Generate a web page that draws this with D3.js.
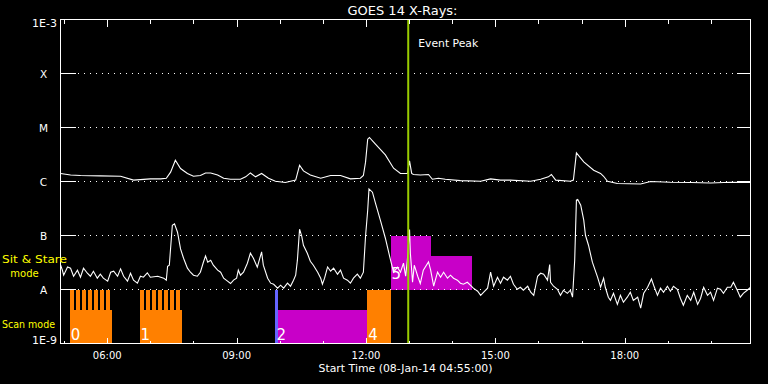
<!DOCTYPE html>
<html>
<head>
<meta charset="utf-8">
<script src="https://cdn.jsdelivr.net/npm/d3@7"></script>
<style>
  body { margin: 0; background: #000; }
  svg { display: block; }
  text { font-family: "DejaVu Sans", sans-serif; fill: #fff; }
</style>
</head>
<body>
<svg id="chart" width="768" height="384"></svg>
<script>
// time range of the plot, UT hours on 08-Jan-2014
const dayStart = Date.UTC(2014, 0, 8);
const plotStart = 4 + 55 / 60;
const plotEnd = 20 + 55 / 60;
const eventPeak = 12.98;

const classFlux = [1e-9, 1e-8, 1e-7, 1e-6, 1e-5, 1e-4, 1e-3];
const classLabels = ["1E-9", "A", "B", "C", "M", "X", "1E-3"];

// GOES 14, 1-8 A channel  [hour UT, W/m^2]
const goesLong = [
  [4.92,1.41e-6],[5.15,1.32e-6],[5.38,1.29e-6],[5.84,1.27e-6],[6.31,1.25e-6],[6.61,1.06e-6],
  [7.00,1.12e-6],[7.24,1.12e-6],[7.37,1.15e-6],[7.47,1.49e-6],[7.58,2.48e-6],[7.70,1.74e-6],
  [7.86,1.41e-6],[8.00,1.25e-6],[8.16,1.29e-6],[8.28,1.44e-6],[8.40,1.44e-6],[8.56,1.32e-6],
  [8.70,1.15e-6],[8.86,1.10e-6],[9.09,1.10e-6],[9.21,1.22e-6],[9.32,1.44e-6],[9.44,1.22e-6],
  [9.58,1.41e-6],[9.74,1.15e-6],[9.90,1.01e-6],[10.13,9.6e-7],[10.37,1.06e-6],[10.46,2.0e-6],
  [10.55,1.57e-6],[10.71,1.32e-6],[10.95,1.15e-6],[11.18,1.29e-6],[11.41,1.29e-6],[11.64,1.12e-6],
  [11.87,1.15e-6],[11.94,1.29e-6],[11.99,2.28e-6],[12.04,6.07e-6],[12.08,6.53e-6],[12.22,4.91e-6],
  [12.45,3.11e-6],[12.64,1.76e-6],[12.80,1.41e-6],[12.96,1.41e-6],[13.01,2.41e-6],[13.06,1.41e-6],
  [13.10,1.35e-6],[13.26,1.32e-6],[13.45,1.35e-6],[13.54,1.10e-6],[13.68,1.15e-6],[13.84,1.10e-6],
  [14.19,1.04e-6],[14.66,1.01e-6],[14.89,1.12e-6],[15.12,1.06e-6],[15.35,1.06e-6],[15.82,1.01e-6],
  [16.05,1.10e-6],[16.23,1.22e-6],[16.30,1.35e-6],[16.40,1.06e-6],[16.74,1.01e-6],[16.81,1.06e-6],
  [16.88,3.39e-6],[17.05,2.31e-6],[17.28,1.62e-6],[17.44,1.41e-6],[17.51,1.25e-6],[17.60,1.01e-6],
  [17.83,9.2e-7],[18.37,9.0e-7],[18.60,1.0e-6],[19.06,9.7e-7],[19.53,9.6e-7],[19.99,9.4e-7],
  [20.46,9.7e-7],[20.92,9.6e-7]
];

// GOES 14, 0.5-4 A channel  [hour UT, W/m^2]
const goesShort = [
  [4.92,2.82e-8],[4.96,2.28e-8],[4.99,1.84e-8],[5.08,2.62e-8],[5.15,2.48e-8],[5.22,1.76e-8],
  [5.31,2.28e-8],[5.38,1.69e-8],[5.45,2.48e-8],[5.54,2.00e-8],[5.61,1.76e-8],[5.68,2.18e-8],
  [5.77,1.62e-8],[5.84,1.92e-8],[5.91,1.62e-8],[6.01,1.43e-8],[6.08,2.09e-8],[6.15,2.18e-8],
  [6.24,1.76e-8],[6.31,2.41e-8],[6.38,1.76e-8],[6.47,1.43e-8],[6.54,2.00e-8],[6.61,1.49e-8],
  [6.70,1.31e-8],[6.77,1.76e-8],[6.84,1.69e-8],[6.93,2.04e-8],[7.00,1.69e-8],[7.17,1.76e-8],
  [7.31,1.62e-8],[7.37,1.49e-8],[7.40,2.70e-8],[7.44,2.82e-8],[7.51,1.55e-7],[7.56,1.64e-7],
  [7.63,1.15e-7],[7.70,5.65e-8],[7.77,3.80e-8],[7.86,2.48e-8],[7.93,2.09e-8],[8.00,1.84e-8],
  [8.09,1.76e-8],[8.16,2.09e-8],[8.23,3.20e-8],[8.28,4.19e-8],[8.33,3.20e-8],[8.40,3.49e-8],
  [8.46,2.82e-8],[8.56,2.28e-8],[8.63,2.09e-8],[8.70,1.62e-8],[8.79,1.43e-8],[8.86,1.29e-8],
  [8.93,1.49e-8],[9.00,1.62e-8],[9.04,2.28e-8],[9.09,1.84e-8],[9.16,2.09e-8],[9.25,3.07e-8],
  [9.32,4.70e-8],[9.39,3.80e-8],[9.48,2.59e-8],[9.58,4.97e-8],[9.62,2.82e-8],[9.72,1.62e-8],
  [9.79,1.31e-8],[9.86,1.25e-8],[9.95,1.06e-8],[10.02,1.20e-8],[10.09,1.06e-8],[10.18,1.31e-8],
  [10.25,1.15e-8],[10.32,1.49e-8],[10.37,1.84e-8],[10.41,3.49e-8],[10.46,1.31e-7],[10.51,9.7e-8],
  [10.55,6.6e-8],[10.64,4.70e-8],[10.71,3.34e-8],[10.78,2.82e-8],[10.88,2.09e-8],[10.95,1.62e-8],
  [10.99,1.25e-8],[11.04,1.62e-8],[11.11,2.62e-8],[11.18,2.18e-8],[11.25,2.48e-8],[11.34,1.92e-8],
  [11.41,2.28e-8],[11.48,1.62e-8],[11.57,1.49e-8],[11.64,1.31e-8],[11.71,1.62e-8],[11.80,1.92e-8],
  [11.87,1.62e-8],[11.94,2.09e-8],[11.99,9.7e-8],[12.04,2.94e-7],[12.07,7.29e-7],[12.15,6.34e-7],
  [12.22,3.96e-7],[12.34,1.84e-7],[12.45,8.9e-8],[12.57,3.49e-8],[12.64,2.09e-8],[12.73,2.59e-8],
  [12.80,2.09e-8],[12.87,3.07e-8],[12.92,1.76e-8],[12.96,3.5e-8],[13.01,1.29e-7],[13.03,4.64e-8],
  [13.06,2.28e-8],[13.08,1.36e-8],[13.12,2.82e-8],[13.20,1.76e-8],[13.26,1.29e-8],[13.33,2.28e-8],
  [13.45,3.24e-8],[13.50,2.28e-8],[13.57,1.15e-8],[13.66,2.09e-8],[13.73,1.69e-8],[13.80,2.09e-8],
  [13.89,1.62e-8],[13.96,1.84e-8],[14.03,1.62e-8],[14.12,1.49e-8],[14.19,1.31e-8],[14.26,1.25e-8],
  [14.35,1.36e-8],[14.42,1.20e-8],[14.49,1.06e-8],[14.59,9.3e-9],[14.66,7.8e-9],[14.73,8.9e-9],
  [14.82,1.06e-8],[14.89,2.09e-8],[14.96,1.15e-8],[15.05,1.69e-8],[15.12,1.31e-8],[15.19,1.69e-8],
  [15.28,1.49e-8],[15.35,1.76e-8],[15.42,1.25e-8],[15.51,1.01e-8],[15.58,1.10e-8],[15.65,9.7e-9],
  [15.75,1.15e-8],[15.82,8.9e-9],[15.89,7.8e-9],[15.98,1.76e-8],[16.05,2.00e-8],[16.12,1.92e-8],
  [16.21,1.49e-8],[16.26,2.90e-8],[16.28,1.36e-8],[16.35,1.15e-8],[16.44,1.01e-8],[16.51,7.8e-9],
  [16.58,9.7e-9],[16.67,8.5e-9],[16.74,9.7e-9],[16.79,7.2e-9],[16.84,3.49e-8],[16.88,4.51e-7],
  [16.91,4.64e-7],[16.98,3.64e-7],[17.05,1.92e-7],[17.09,1.01e-7],[17.16,6.6e-8],[17.25,3.20e-8],
  [17.37,1.69e-8],[17.44,1.10e-8],[17.51,1.62e-8],[17.55,1.10e-8],[17.62,7.2e-9],[17.67,6.3e-9],
  [17.74,8.5e-9],[17.83,5.3e-9],[17.90,7.8e-9],[17.97,5.8e-9],[18.06,7.2e-9],[18.13,8.9e-9],
  [18.20,6.3e-9],[18.30,7.2e-9],[18.37,4.5e-9],[18.44,8.5e-9],[18.53,1.10e-8],[18.62,1.57e-8],
  [18.67,1.20e-8],[18.76,7.8e-9],[18.83,1.06e-8],[18.90,8.9e-9],[18.99,1.15e-8],[19.06,9.3e-9],
  [19.13,1.15e-8],[19.22,1.01e-8],[19.29,6.9e-9],[19.36,5.1e-9],[19.45,7.8e-9],[19.53,6.3e-9],
  [19.60,8.9e-9],[19.69,5.3e-9],[19.76,6.9e-9],[19.83,1.10e-8],[19.92,7.8e-9],[19.99,8.9e-9],
  [20.06,6.3e-9],[20.15,1.06e-8],[20.22,1.01e-8],[20.29,8.5e-9],[20.38,1.10e-8],[20.46,1.10e-8],
  [20.52,1.36e-8],[20.61,9.7e-9],[20.68,7.2e-9],[20.75,8.5e-9],[20.84,9.7e-9],[20.92,1.10e-8]
];

// IRIS observations: mode band, start/end (hour UT), fill level within band, raster count
const obsLabels = ["0", "1", "2", "", "4", "5", ""];
const obsMode   = ["scan", "scan", "scan", "scan", "scan", "sit", "sit"];
const obsStart  = [5.13, 6.75, 9.90, 9.96, 12.03, 12.57, 13.51];
const obsEnd    = [6.12, 7.74, 9.95, 12.03, 12.57, 13.51, 14.47];
const obsLevel  = [0.62, 0.62, 1.0, 0.62, 1.0, 1.0, 0.62];
const obsRasters = [7, 7, 0, 0, 0, 0, 0];
const obsColor  = ["#ff8000", "#ff8000", "#6464ff", "#c800c8", "#ff8000", "#c800c8", "#c800c8"];

const bandLow = { scan: 1e-9, sit: 1e-8 };

const toDate = h => new Date(dayStart + h * 3600e3);

const svg = d3.select("#chart");
svg.append("rect").attr("width", 768).attr("height", 384).attr("fill", "#000");

const x = d3.scaleUtc()
  .domain([toDate(plotStart), toDate(plotEnd)])
  .range([60.5, 750.5]);
const y = d3.scaleLog()
  .domain([1e-9, 1e-3])
  .range([343.5, 19.5]);

const pLeft = 60.5, pRight = 750.5, pTop = 19.5, pBottom = 343.5;

// observation blocks
const obs = obsStart.map((s, i) => ({
  label: obsLabels[i], mode: obsMode[i], start: s, end: obsEnd[i],
  level: obsLevel[i], rasters: obsRasters[i], color: obsColor[i]
}));

const blocks = svg.append("g");
obs.forEach(o => {
  const low = bandLow[o.mode];
  const x0 = x(toDate(o.start)), x1 = x(toDate(o.end));
  const yTop = y(low * Math.pow(10, o.level));
  blocks.append("rect")
    .attr("x", x0).attr("width", x1 - x0)
    .attr("y", yTop).attr("height", y(low) - yTop)
    .attr("fill", o.color)
    .attr("shape-rendering", "crispEdges");
  const step = (o.end - o.start) / (o.rasters || 1);
  for (let k = 0; k < o.rasters; k++) {
    const t0 = o.start + k * step;
    const tx0 = x(toDate(t0)), tx1 = x(toDate(t0 + step * 0.66));
    blocks.append("rect")
      .attr("x", tx0).attr("width", tx1 - tx0)
      .attr("y", y(low * 10)).attr("height", yTop - y(low * 10))
      .attr("fill", o.color)
      .attr("shape-rendering", "crispEdges");
  }
});

// grid lines (dotted) and side ticks at each decade
const grid = svg.append("g").attr("stroke", "#fff").attr("shape-rendering", "crispEdges");
classFlux.slice(1, -1).forEach(f => {
  grid.append("line")
    .attr("x1", 78).attr("x2", 735).attr("y1", y(f)).attr("y2", y(f))
    .attr("stroke-dasharray", "1,5");
});
classFlux.forEach(f => {
  grid.append("line").attr("x1", pLeft).attr("x2", pLeft + 15).attr("y1", y(f)).attr("y2", y(f));
  grid.append("line").attr("x1", pRight - 14).attr("x2", pRight).attr("y1", y(f)).attr("y2", y(f));
});

// curves
const line = d3.line()
  .x(d => x(toDate(d[0])))
  .y(d => y(d[1]));

svg.append("path").datum(goesLong)
  .attr("d", line).attr("fill", "none").attr("stroke", "#fff").attr("stroke-width", 1.1);
svg.append("path").datum(goesShort)
  .attr("d", line).attr("fill", "none").attr("stroke", "#fff").attr("stroke-width", 1.1);

// event peak marker
svg.append("line")
  .attr("x1", x(toDate(eventPeak))).attr("x2", x(toDate(eventPeak)))
  .attr("y1", pTop).attr("y2", pBottom)
  .attr("stroke", "#99cc00").attr("stroke-width", 2);
svg.append("text")
  .attr("x", x(toDate(eventPeak)) + 10).attr("y", 46.5)
  .attr("font-size", 11).attr("textLength", 60).attr("lengthAdjust", "spacingAndGlyphs")
  .text("Event Peak");

// block labels
obs.filter(o => o.label).forEach(o => {
  const low = bandLow[o.mode];
  blocks.append("text")
    .attr("x", x(toDate(o.start)) + 1)
    .attr("y", o.mode === "scan" ? y(low) - 4 : y(low) - 11)
    .attr("font-size", 15)
    .text(o.label);
});

// frame
svg.append("rect")
  .attr("x", pLeft).attr("y", pTop)
  .attr("width", pRight - pLeft).attr("height", pBottom - pTop)
  .attr("fill", "none").attr("stroke", "#fff")
  .attr("shape-rendering", "crispEdges");

// hourly ticks, top and bottom
const hours = x.ticks(d3.utcHour.every(1));
const ticks = svg.append("g").attr("stroke", "#fff").attr("shape-rendering", "crispEdges");
hours.forEach(h => {
  const len = h.getUTCHours() % 3 === 0 ? 6 : 3;
  const px = Math.round(x(h)) + 0.5;
  ticks.append("line").attr("x1", px).attr("x2", px).attr("y1", pTop).attr("y2", pTop + len + 1);
  ticks.append("line").attr("x1", px).attr("x2", px).attr("y1", pBottom).attr("y2", pBottom - len);
});

const fmt = d3.utcFormat("%H:%M");
svg.append("g").selectAll("text")
  .data(hours.filter(h => h.getUTCHours() % 3 === 0))
  .join("text")
  .attr("x", d => x(d)).attr("y", 359)
  .attr("text-anchor", "middle").attr("font-size", 10)
  .text(d => fmt(d));

// y labels
classFlux.forEach((f, i) => {
  const lab = classLabels[i];
  const wide = lab.length > 1;
  let yy = y(f) + 4;
  if (i === 0) yy = y(f);
  if (i === classFlux.length - 1) yy = y(f) + 7;
  svg.append("text")
    .attr("x", wide ? 57 : 43.5)
    .attr("y", yy)
    .attr("text-anchor", wide ? "end" : "middle")
    .attr("font-size", wide ? 11 : 10.5)
    .text(lab);
});

// titles
svg.append("text")
  .attr("x", (pLeft + pRight) / 2 - 3).attr("y", 15)
  .attr("text-anchor", "middle").attr("font-size", 12)
  .attr("textLength", 110).attr("lengthAdjust", "spacingAndGlyphs")
  .text("GOES 14 X-Rays:");
svg.append("text")
  .attr("x", (pLeft + pRight) / 2).attr("y", 372)
  .attr("text-anchor", "middle").attr("font-size", 10.5)
  .attr("textLength", 174).attr("lengthAdjust", "spacingAndGlyphs")
  .text("Start Time (08-Jan-14 04:55:00)");

// mode labels
const modeText = svg.append("g").style("fill", "#ffff00");
modeText.append("text").attr("x", 2).attr("y", 263).attr("font-size", 11)
  .attr("textLength", 65).attr("lengthAdjust", "spacingAndGlyphs")
  .style("fill", "#ffff00").text("Sit & Stare");
modeText.append("text").attr("x", 24.5).attr("y", 276.5).attr("font-size", 10)
  .attr("text-anchor", "middle")
  .style("fill", "#ffff00").text("mode");
modeText.append("text").attr("x", 2).attr("y", 328).attr("font-size", 11)
  .attr("textLength", 53).attr("lengthAdjust", "spacingAndGlyphs")
  .style("fill", "#ffff00").text("Scan mode");
</script>
</body>
</html>
